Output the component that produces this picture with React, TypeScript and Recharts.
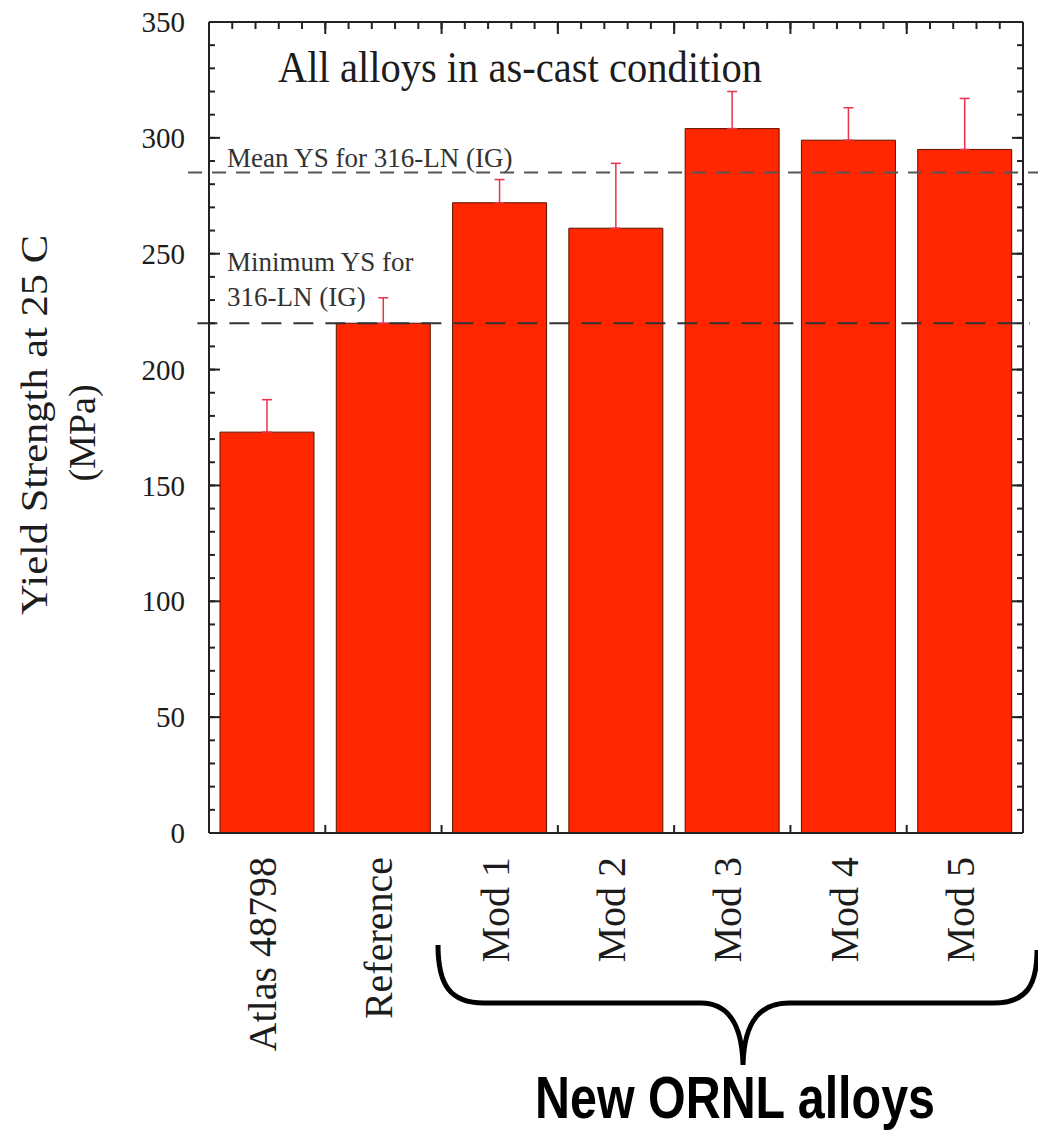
import { BarChart, Bar, XAxis, YAxis, ErrorBar, ReferenceLine } from 'recharts';

const alloys = ['Atlas 48798', 'Reference', 'Mod 1', 'Mod 2', 'Mod 3', 'Mod 4', 'Mod 5'];
const yieldStrength = [173, 220, 272, 261, 304, 299, 295];
const upperError = [14, 11, 10, 28, 16, 14, 22];

const yTicks = [0, 50, 100, 150, 200, 250, 300, 350];
const yMinorTicks = Array.from({ length: 36 }, (_, i) => i * 10);
// category boundaries (0..7) and fifths of a category for the top frame
const boundaryTicks = Array.from({ length: alloys.length + 1 }, (_, i) => i);
const topMinorTicks = Array.from({ length: alloys.length * 5 + 1 }, (_, i) => i / 5);

const meanYS = 285;
const minimumYS = 220;
// the dashed guides run a little past the frame (in category units)
const meanSpan = [-0.18, 7.13];
const minimumSpan = [-0.1, 7.06];

const data = alloys.map((name, i) => ({
  name,
  pos: i + 0.5,
  ys: yieldStrength[i],
  err: [0, upperError[i]],
}));

const SERIF = '"Liberation Serif", "Times New Roman", serif';
const INK = '#1c1c1c';

function CategoryTick({ x, y, payload }: any) {
  return (
    <g transform={`translate(${x - 5},${y + 16}) rotate(-90)`}>
      <text x={0} y={0} dy="0.35em" textAnchor="end" fontFamily={SERIF} fontSize={40} fill={INK}>
        {payload.value}
      </text>
    </g>
  );
}

function ValueTick({ x, y, payload }: any) {
  return (
    <text x={x} y={y} dy="0.35em" textAnchor="end" fontFamily={SERIF} fontSize={29} fill={INK}>
      {payload.value}
    </text>
  );
}

// tick marks only, no label
const NoLabel = () => <g />;

function MeanLabel({ viewBox }: any) {
  return (
    <text x={227} y={viewBox.y - 6} fontFamily={SERIF} fontSize={27} fill="#333">
      Mean YS for 316-LN (IG)
    </text>
  );
}

function MinimumLabel({ viewBox }: any) {
  return (
    <g fontFamily={SERIF} fontSize={27} fill="#333">
      <text x={227} y={viewBox.y - 52}>Minimum YS for</text>
      <text x={227} y={viewBox.y - 17}>316-LN (IG)</text>
    </g>
  );
}

export default function App() {
  const frame = { stroke: '#222', strokeWidth: 2 };
  const tickOnly = { tick: <NoLabel />, interval: 0 as const, allowDataOverflow: true };
  return (
    <div style={{ position: 'absolute', left: 0, top: 0, width: 1038, height: 1131, background: '#fff' }}>
      <BarChart width={1038} height={1131} data={data} margin={{ top: 22, right: 15, bottom: 0, left: 0 }}>
        <Bar
          xAxisId="cat"
          yAxisId="val"
          dataKey="ys"
          fill="#ff2600"
          stroke="#5c1200"
          strokeWidth={1}
          barSize={94}
          isAnimationActive={false}
        >
          <ErrorBar dataKey="err" direction="y" width={5} stroke="#e8334a" strokeWidth={1.5} />
        </Bar>

        <ReferenceLine
          xAxisId="topMajor"
          yAxisId="val"
          segment={[{ x: meanSpan[0], y: meanYS }, { x: meanSpan[1], y: meanYS }]}
          ifOverflow="visible"
          stroke="#555"
          strokeWidth={2}
          strokeDasharray="14 10"
          label={(p: any) => <MeanLabel {...p} />}
        />
        <ReferenceLine
          xAxisId="topMajor"
          yAxisId="val"
          segment={[{ x: minimumSpan[0], y: minimumYS }, { x: minimumSpan[1], y: minimumYS }]}
          ifOverflow="visible"
          stroke="#333"
          strokeWidth={2}
          strokeDasharray="20 12"
          label={(p: any) => <MinimumLabel {...p} />}
        />

        {/* inward tick marks on the frame */}
        <YAxis yAxisId="valMajor" dataKey="ys" type="number" domain={[0, 350]} ticks={yTicks} mirror width={1}
          tickSize={11} tickLine={frame} axisLine={false} {...tickOnly} />
        <YAxis yAxisId="valMinor" dataKey="ys" type="number" domain={[0, 350]} ticks={yMinorTicks} mirror width={1}
          tickSize={5} tickLine={frame} axisLine={false} {...tickOnly} />
        <YAxis yAxisId="val" type="number" domain={[0, 350]} ticks={yTicks} width={209} interval={0}
          tick={<ValueTick />} tickLine={false} tickMargin={18} axisLine={frame} allowDataOverflow />
        <YAxis yAxisId="rightMajor" dataKey="ys" orientation="right" type="number" domain={[0, 350]} ticks={yTicks}
          mirror width={1} tickSize={11} tickLine={frame} axisLine={frame} {...tickOnly} />
        <YAxis yAxisId="rightMinor" dataKey="ys" orientation="right" type="number" domain={[0, 350]} ticks={yMinorTicks}
          mirror width={1} tickSize={5} tickLine={frame} axisLine={false} {...tickOnly} />

        <XAxis xAxisId="topMajor" dataKey="pos" orientation="top" type="number" domain={[0, alloys.length]} ticks={boundaryTicks}
          mirror height={1} tickSize={12} tickLine={frame} axisLine={frame} {...tickOnly} />
        <XAxis xAxisId="topMinor" dataKey="pos" orientation="top" type="number" domain={[0, alloys.length]} ticks={topMinorTicks}
          mirror height={1} tickSize={6} tickLine={frame} axisLine={false} {...tickOnly} />
        <XAxis xAxisId="bottomTicks" dataKey="pos" orientation="bottom" type="number" domain={[0, alloys.length]} ticks={boundaryTicks}
          mirror height={1} tickSize={8} tickLine={frame} axisLine={false} {...tickOnly} />
        <XAxis xAxisId="cat" dataKey="name" height={298} interval={0} tick={<CategoryTick />}
          tickLine={false} axisLine={frame} />
      </BarChart>

      <svg width={1038} height={1131} style={{ position: 'absolute', left: 0, top: 0, pointerEvents: 'none' }}>
        <text x={278} y={82} fontFamily={SERIF} fontSize={44} textLength={484} lengthAdjust="spacingAndGlyphs" fill={INK}>
          All alloys in as-cast condition
        </text>
        <text transform="translate(34,425) rotate(-90)" x={0} y={0} dy="0.35em" textAnchor="middle"
          fontFamily={SERIF} fontSize={38} textLength={380} lengthAdjust="spacingAndGlyphs" fill={INK}>
          Yield Strength at 25 C
        </text>
        <text transform="translate(82,433) rotate(-90)" x={0} y={0} dy="0.35em" textAnchor="middle"
          fontFamily={SERIF} fontSize={38} fill={INK}>
          (MPa)
        </text>
        <path
          d="M438,945 C438,985 450,1003 484,1003 L701,1003 C725,1003 742,1020 743,1065 C744,1020 761,1003 789,1003 L993,1003 C1027,1003 1037,985 1037,950"
          fill="none"
          stroke="#000"
          strokeWidth={5}
        />
        <text x={735} y={1118} textAnchor="middle" fontFamily='"Liberation Sans", Arial, sans-serif'
          fontWeight="bold" fontSize={60} textLength={400} lengthAdjust="spacingAndGlyphs" fill="#000">
          New ORNL alloys
        </text>
      </svg>
    </div>
  );
}
